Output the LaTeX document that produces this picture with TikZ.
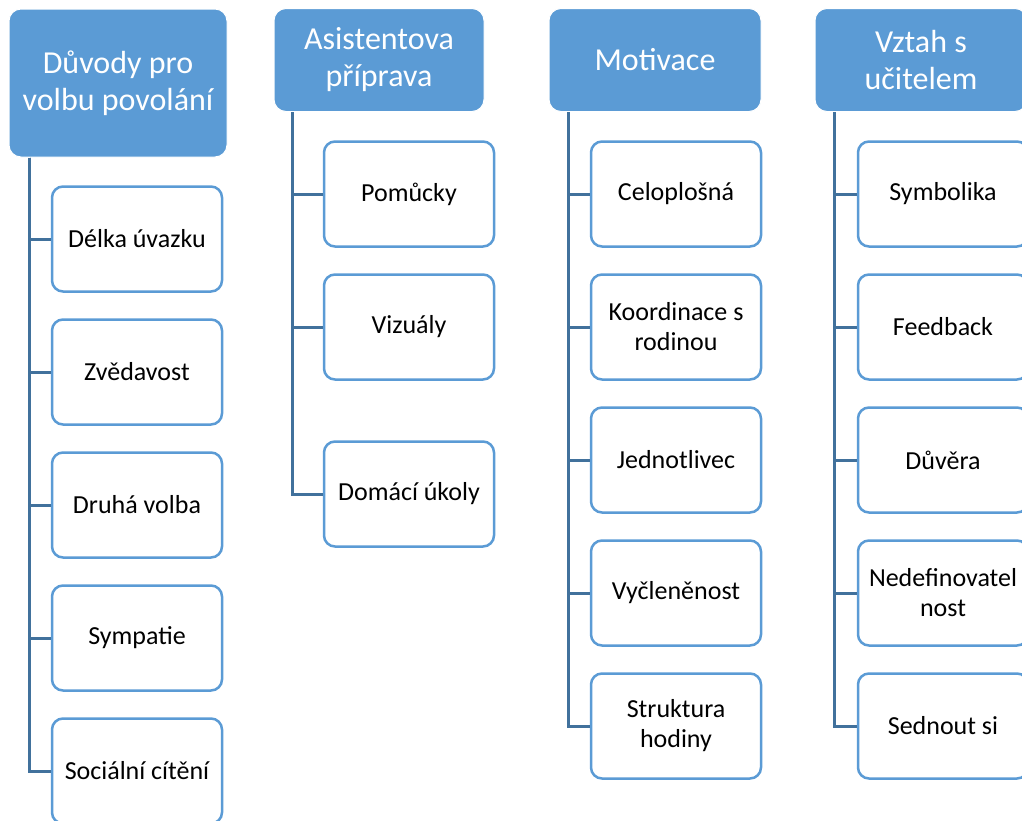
\documentclass[tikz,border=0pt]{standalone}
\usepackage{fontspec}
\setmainfont{Carlito}
\usetikzlibrary{positioning}
\definecolor{accent}{HTML}{5B9BD5}
\definecolor{accentdark}{HTML}{41719C}

\begin{document}
\begin{tikzpicture}[x=1pt,y=-1pt,node distance=133pt,on grid,
    topic/.style={rectangle,rounded corners=12pt,fill=accent,draw=white,line width=1pt,
      text=white,align=center,font=\fontsize{32}{37}\selectfont},
    leaf/.style={rectangle,rounded corners=11pt,fill=white,draw=accent,line width=2.5pt,
      minimum width=170pt,minimum height=105pt,align=center,
      font=\fontsize{26}{30}\selectfont},
    link/.style={draw=accentdark,line width=3pt}]
	   \useasboundingbox (0,0) rectangle (1022,820);
	   % headings
	   \node[topic,minimum width=218pt,minimum height=148pt] (h_1) at (118,83) {Důvody pro\\volbu povolání};
	   \node[topic,minimum width=210pt,minimum height=103pt] (h_2) at (379,60) {Asistentova\\příprava};
	   \node[topic,minimum width=212pt,minimum height=103pt] (h_3) at (655,60) {Motivace};
	   \node[topic,minimum width=212pt,minimum height=103pt] (h_4) at (921,60) {Vztah s\\učitelem};
	   % first column
	   \node[leaf] (a_1) at (137,239) {Délka úvazku};
	   \node[leaf] (a_2) [below=of a_1] {Zvědavost};
	   \node[leaf] (a_3) [below=of a_2] {Druhá volba};
	   \node[leaf] (a_4) [below=of a_3] {Sympatie};
	   \node[leaf] (a_5) [below=of a_4] {Sociální cítění};
	   % second column
	   \node[leaf] (b_1) at (409,194) {Pomůcky};
	   \node[leaf] (b_2) [below=of b_1] {Vizuály};
	   \node[leaf] (b_3) [below=167pt of b_2] {Domácí úkoly};
	   % third column
	   \node[leaf] (c_1) at (676,194) {Celoplošná};
	   \node[leaf] (c_2) [below=of c_1] {Koordinace s\\rodinou};
	   \node[leaf] (c_3) [below=of c_2] {Jednotlivec};
	   \node[leaf] (c_4) [below=of c_3] {Vyčleněnost};
	   \node[leaf] (c_5) [below=of c_4] {Struktura\\hodiny};
	   % fourth column
	   \node[leaf] (d_1) at (943,194) {Symbolika};
	   \node[leaf] (d_2) [below=of d_1] {Feedback};
	   \node[leaf] (d_3) [below=of d_2] {Důvěra};
	   \node[leaf] (d_4) [below=of d_3] {Nedefinovatel\\nost};
	   \node[leaf] (d_5) [below=of d_4] {Sednout si};
	   % connectors
	   \foreach \i in {1,...,5}
	     \draw[link] ([xshift=21pt]h_1.south west) |- (a_\i.west);
	   \foreach \i in {1,...,3}
	     \draw[link] ([xshift=19pt]h_2.south west) |- (b_\i.west);
	   \foreach \i in {1,...,5}
	     \draw[link] ([xshift=20pt]h_3.south west) |- (c_\i.west);
	   \foreach \i in {1,...,5}
	     \draw[link] ([xshift=20pt]h_4.south west) |- (d_\i.west);
	\end{tikzpicture}
\end{document}
